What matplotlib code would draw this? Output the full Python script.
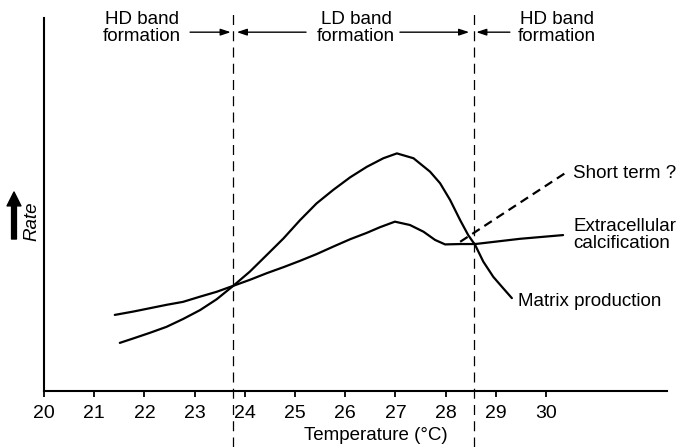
import matplotlib
matplotlib.use("Agg")
import matplotlib.pyplot as plt

plt.rcParams['font.family'] = ['Liberation Sans', 'DejaVu Sans']

# Data (temperature in degC, rate in arbitrary units 0-100)
matrix_t = [21.51, 21.78, 22.11, 22.44, 22.77, 23.11, 23.44, 23.77, 24.10, 24.44,
            24.77, 25.10, 25.43, 25.76, 26.10, 26.43, 26.76, 27.03, 27.36, 27.69,
            27.89, 28.09, 28.29, 28.45, 28.59, 28.75, 28.95, 29.15, 29.32]
matrix_rate = [12.9, 14.1, 15.6, 17.2, 19.3, 21.7, 24.6, 28.2, 32.0, 36.5,
               40.9, 45.8, 50.3, 53.9, 57.3, 60.1, 62.4, 63.7, 62.4, 58.8,
               55.7, 51.2, 45.8, 41.8, 39.1, 34.7, 30.6, 27.5, 24.9]

calc_t = [21.41, 21.78, 22.11, 22.44, 22.77, 23.11, 23.44, 23.77, 24.10, 24.44,
          24.77, 25.10, 25.43, 25.76, 26.10, 26.43, 26.69, 26.99, 27.29, 27.56,
          27.79, 27.99, 28.29, 28.59, 29.48, 30.34]
calc_rate = [20.4, 21.3, 22.2, 23.1, 23.9, 25.3, 26.6, 28.2, 29.8, 31.6,
             33.2, 34.9, 36.7, 38.7, 40.7, 42.4, 43.9, 45.4, 44.5, 42.7,
             40.5, 39.3, 39.4, 39.4, 40.8, 41.8]

short_t = [28.29, 30.38]
short_rate = [40.0, 58.4]

boundaries = [23.76, 28.57]
xticks = list(range(20, 31))

fig = plt.figure(figsize=(6.82, 4.47), dpi=100)
ax = fig.add_axes([44/682, 56/447, (667-44)/682, (391-18)/447])
ax.set_xlim(20, 32.41)
ax.set_ylim(0, 100)

for s in ['top', 'right']:
    ax.spines[s].set_visible(False)
ax.spines['left'].set_linewidth(1.5)
ax.spines['bottom'].set_linewidth(1.5)
ax.set_yticks([])
ax.set_xticks(xticks)
ax.set_xticklabels([str(t) for t in xticks], fontsize=14)
ax.tick_params(axis='x', direction='out', length=4, width=1.3, pad=6)

ax.plot(matrix_t, matrix_rate, color='black', lw=1.6, solid_capstyle='round',
        solid_joinstyle='round')
ax.plot(calc_t, calc_rate, color='black', lw=1.6, solid_capstyle='round',
        solid_joinstyle='round')
ax.plot(short_t, short_rate, color='black', lw=1.6, linestyle=(0, (4, 2.5)))

for b in boundaries:
    ax.plot([b, b], [-15, 101], color='black', lw=0.9, linestyle=(0, (8, 5)),
            clip_on=False)

fs = 13.5
ax.text(30.54, 58.4, 'Short term ?', fontsize=fs, ha='left', va='center')
ax.text(30.54, 41.7, 'Extracellular\ncalcification', fontsize=fs, ha='left',
        va='center', linespacing=1.0)
ax.text(29.44, 23.9, 'Matrix production', fontsize=fs, ha='left', va='center')

# Header
hy = 97.3
ax.text(21.95, hy, 'HD band\nformation', fontsize=fs, ha='center', va='center',
        linespacing=1.0, clip_on=False)
ax.text(26.22, hy, 'LD band\nformation', fontsize=fs, ha='center', va='center',
        linespacing=1.0, clip_on=False)
ax.text(30.22, hy, 'HD band\nformation', fontsize=fs, ha='center', va='center',
        linespacing=1.0, clip_on=False)

arrow_kw = dict(arrowstyle='-|>,head_length=0.6,head_width=0.2', color='black', lw=1.0,
                shrinkA=0, shrinkB=0)
ay = 96.2
for x0, x1 in [(22.91, 23.72), (25.22, 23.84), (27.09, 28.47), (29.28, 28.61)]:
    ax.annotate('', xy=(x1, ay), xytext=(x0, ay), arrowprops=arrow_kw,
                annotation_clip=False)

ax.text(26.6, -11.8, 'Temperature (°C)', fontsize=fs, ha='center', va='center',
        clip_on=False)

# Rate label with thick arrow
fig.text(32/682, (447-221)/447, 'Rate', fontsize=fs, style='italic', rotation=90,
         ha='center', va='center')
ax.annotate('', xy=(14, 447-192), xytext=(14, 447-239), xycoords='figure pixels',
            textcoords='figure pixels',
            arrowprops=dict(width=3.5, headwidth=10, headlength=10, color='black'))

fig.savefig('out.png', dpi=100)
